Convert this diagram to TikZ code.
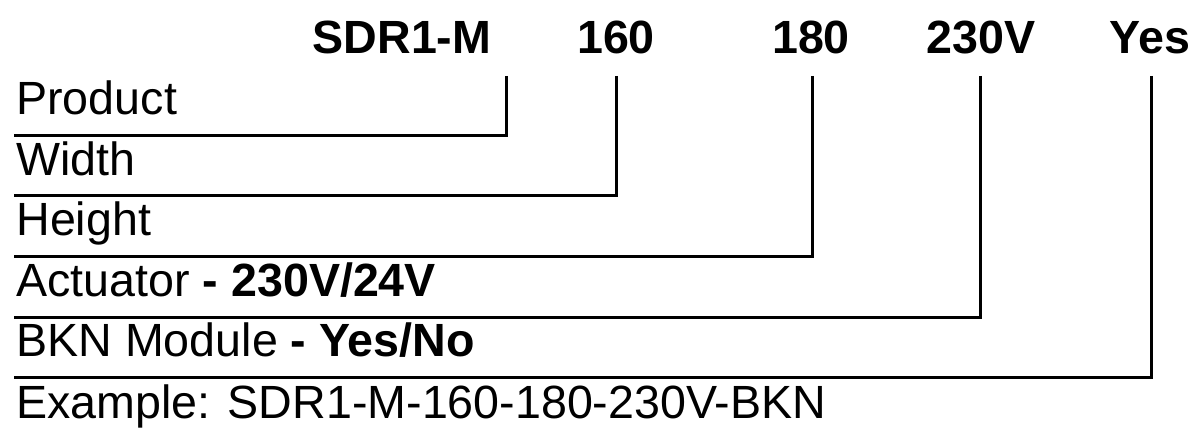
\documentclass[tikz,border=0pt]{standalone}
\usepackage{fontspec}
\setmainfont{Liberation Sans}
\begin{document}
\begin{tikzpicture}[x=0.5pt,y=-0.5pt,
    code/.style={font=\fontsize{23.3}{28}\selectfont\bfseries,anchor=base,inner sep=0pt},
    field/.style={font=\fontsize{23.3}{28}\selectfont,anchor=base west,inner sep=0pt},
    leader/.style={line width=1.5pt}]
    \useasboundingbox (0,0) rectangle (1191,433);
    % order code
    \node[code] (M) at (402,54) {SDR1-M};
    \node[code] (W) at (616,54) {160};
    \node[code] (H) at (811,54) {180};
    \node[code] (A) at (981,54) {230V};
    \node[code] (B) at (1150,54) {Yes};
    % fields
    \node[field] (Mf) at (16,115) {Product};
    \node[field] (Wf) at (16,176) {Width};
    \node[field] (Hf) at (16,236) {Height};
    \node[field] (Af) at (16,297) {Actuator \textbf{- 230V/24V}};
    \node[field] (Bf) at (16,357) {BKN Module \textbf{- Yes/No}};
    \node[field] (Ex) at (16,418) {Example: SDR1-M-160-180-230V-BKN};
    % leaders
    \coordinate (Mt) at (506,76);
    \coordinate (Wt) at (616,76);
    \coordinate (Ht) at (812,76);
    \coordinate (At) at (980,76);
    \coordinate (Bt) at (1151,76);
    \coordinate (Me) at (14,136);
    \coordinate (We) at (14,196);
    \coordinate (He) at (14,257);
    \coordinate (Ae) at (14,318);
    \coordinate (Be) at (14,378);
    \draw[leader] (Mt) |- (Me);
    \draw[leader] (Wt) |- (We);
    \draw[leader] (Ht) |- (He);
    \draw[leader] (At) |- (Ae);
    \draw[leader] (Bt) |- (Be);
\end{tikzpicture}
\end{document}
